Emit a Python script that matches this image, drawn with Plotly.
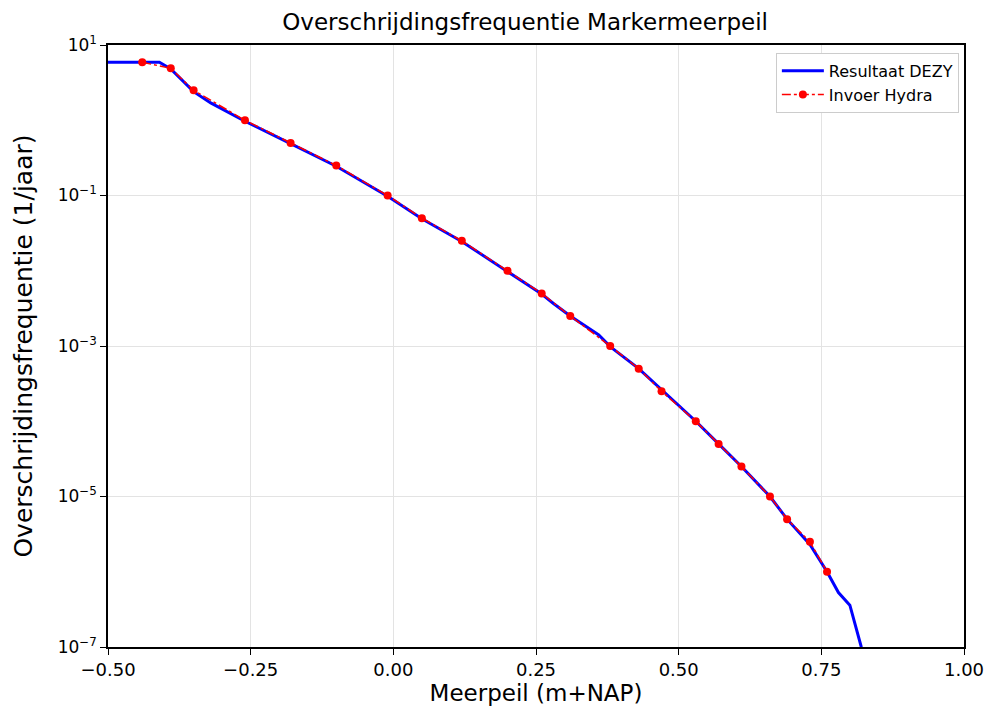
import plotly.graph_objects as go

# Invoer Hydra (markers)
hydra_x = [-0.44, -0.39, -0.35, -0.26, -0.18, -0.10, -0.01, 0.05, 0.12, 0.20, 0.26,
           0.31, 0.38, 0.43, 0.47, 0.53, 0.57, 0.61, 0.66, 0.69, 0.73, 0.76]
hydra_y = [5.9, 4.9, 2.5, 1.0, 0.5, 0.25, 0.1, 0.05, 0.025, 0.01, 0.005,
           0.0025, 0.001, 0.0005, 0.00025, 0.0001, 5e-5, 2.5e-5, 1e-5, 5e-6, 2.5e-6, 1e-6]

# Resultaat DEZY (line)
dezy_x = [-0.50, -0.41, -0.39, -0.35, -0.32, -0.26, -0.18, -0.10, -0.01, 0.05, 0.12,
          0.20, 0.26, 0.28, 0.31, 0.36, 0.38, 0.43, 0.47, 0.50, 0.53, 0.57, 0.61,
          0.66, 0.69, 0.73, 0.76, 0.78, 0.80, 0.82, 0.83]
dezy_y = [5.9, 5.9, 4.8, 2.4, 1.7, 0.97, 0.49, 0.245, 0.098, 0.049, 0.0245,
          0.0098, 0.0049, 0.0037, 0.0025, 0.0014, 0.00098, 0.0005, 0.00026, 0.00016, 0.0001, 5e-5, 2.5e-5,
          1e-5, 5e-6, 2.3e-6, 1e-6, 5.3e-7, 3.6e-7, 1e-7, 6e-8]

x_ticks = [-0.5, -0.25, 0.0, 0.25, 0.5, 0.75, 1.0]
x_ticktext = ["\u22120.50", "\u22120.25", "0.00", "0.25", "0.50", "0.75", "1.00"]
y_ticks = [10, 0.1, 1e-3, 1e-5, 1e-7]
y_ticktext = ["10<sup>1</sup>", "10<sup>\u22121</sup>", "10<sup>\u22123</sup>",
              "10<sup>\u22125</sup>", "10<sup>\u22127</sup>"]

fig = go.Figure()
fig.add_trace(go.Scatter(x=dezy_x, y=dezy_y, mode="lines", name="Resultaat DEZY",
                         line=dict(color="#0000ff", width=3)))
fig.add_trace(go.Scatter(x=hydra_x, y=hydra_y, mode="lines+markers", name="Invoer Hydra",
                         line=dict(color="#ff0000", width=1.5, dash="dashdot"),
                         marker=dict(color="#ff0000", size=8)))

fig.update_layout(
    width=987, height=715,
    margin=dict(l=108, r=23, t=45, b=68),
    paper_bgcolor="white", plot_bgcolor="white",
    font=dict(family="DejaVu Sans", size=18, color="black"),
    title=dict(text="Overschrijdingsfrequentie Markermeerpeil", x=0.532, xanchor="center",
               y=0.969, yanchor="middle", font=dict(size=23)),
    legend=dict(x=0.994, y=0.987, xanchor="right", yanchor="top",
                bgcolor="white", bordercolor="#cccccc", borderwidth=1,
                font=dict(size=16), tracegroupgap=2, itemwidth=42),
    showlegend=True,
)
fig.update_xaxes(range=[-0.5, 1.0], tickvals=x_ticks, ticktext=x_ticktext,
                 showgrid=True, gridcolor="#e3e3e3", gridwidth=1,
                 showline=True, linecolor="black", linewidth=1.5, mirror=True,
                 ticks="outside", ticklen=6, tickcolor="black", zeroline=False,
                 automargin=False,
                 title=dict(text="Meerpeil (m+NAP)", font=dict(size=23), standoff=1),
                 tickfont=dict(size=18))
fig.update_yaxes(type="log", range=[-7, 1], tickvals=y_ticks, ticktext=y_ticktext,
                 showgrid=True, gridcolor="#e3e3e3", gridwidth=1,
                 showline=True, linecolor="black", linewidth=1.5, mirror=True,
                 ticks="outside", ticklen=6, tickcolor="black", zeroline=False,
                 automargin=False,
                 title=dict(text="Overschrijdingsfrequentie (1/jaar)", font=dict(size=25), standoff=18),
                 tickfont=dict(size=17))

fig.write_html("out.html")
